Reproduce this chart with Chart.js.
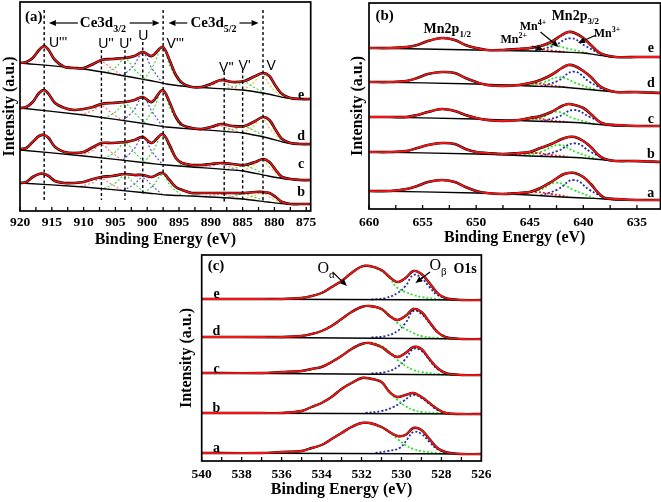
<!DOCTYPE html>
<html><head><meta charset="utf-8">
<script src="https://cdn.jsdelivr.net/npm/chart.js@4/dist/chart.umd.min.js"></script>
<style>
html,body{margin:0;padding:0;background:#fff;width:661px;height:502px;overflow:hidden;position:relative;}
.box{position:absolute;}
</style></head><body>
<div class="box" style="left:0;top:0;width:320px;height:254px"><canvas id="ca"></canvas></div>
<div class="box" style="left:348px;top:0;width:314px;height:254px"><canvas id="cb"></canvas></div>
<div class="box" style="left:177px;top:252px;width:320px;height:250px"><canvas id="cc"></canvas></div>
<script>
// ---------- Panel (a): Ce 3d ----------
const A_E = [920,919,918,917,916.2,915.5,914.5,913,911.5,910,908.5,907.2,905.5,903.5,902,900.7,899.3,897.6,896.5,895.5,894.5,893,891.5,890,888.4,886.6,884.7,883,881.8,880.8,879.8,878.8,877.5,876,874.3];
const A_FIT_E = [148,149,153,161,165,161,151,144,143,143,147,151,152,153,155,159,155,164,151,136,128,124,124,127,131,129,130,135,138,135,125,117,113,112,112];
const A_FIT_D = [103,104,109,118,121,117,108,103,101,102,104,107,108,109,111,114,109,121,109,94,86,83,82,84,87,85,85,90,94,91,81,72,68,67,67];
const A_FIT_C = [62,63,69,75,76,73,64,59,58,59,64,68,68,69,71,74,68,77,66,53,48,46,46,47,48,47,46,49,52,49,41,34,32,31,31];
const A_FIT_B = [28,29,34,37,37,35,30,28,28,29,32,34,35,37,36,36,34,38,31,24,21,18,18,18,18,18,18,19,19,18,14,9,7,7,7];
const A_BASE_X = [920,910,900,897,893,885,881,878,874.3];
const A_BASE_E = [148,142,131,127,124,121,117,113,112];
const A_BASE_D = [103,96,87,84,82,78,73,68,67];
const A_BASE_C = [61,55,48,46,44,40,35,32,31];
const A_BASE_B = [28,24,18,16,15,12,9,7,7];
const aE_U2 = [[910.5,141.5],[908.7,145],[907.2,149],[905.7,143],[904,135.5]];
const aE_U1 = [[906.8,138],[905,143.5],[903.5,152],[902,141.5],[900.3,131.5]];
const aE_U0 = [[903.8,135.5],[902.2,145],[900.7,157],[899.2,142],[897.6,128]];
const aE_V3 = [[900.5,131],[899,146],[897.6,163],[896.3,143],[894.6,125.5]];
const aE_V2 = [[891.5,123.5],[889.8,126],[888.4,129.5],[887,125.5],[885.3,121]];
const aE_V1 = [[888,122],[886.2,124.5],[884.7,128.5],[883.2,123.5],[881.5,118]];
const aE_V0 = [[885,121],[883.3,128],[882,137],[880.8,126],[879,114]];
const aD_U2 = [[910.5,96.5],[908.7,100],[907.2,105],[905.7,98.5],[904,91]];
const aD_U1 = [[906.8,92.5],[905,99],[903.5,107],[902,98],[900.3,87.5]];
const aD_U0 = [[903.8,90.5],[902.2,100],[900.7,113],[899.2,99],[897.6,84.6]];
const aD_V3 = [[900.5,87.5],[899,102],[897.6,120],[896.3,101],[894.6,83]];
const aD_V2 = [[891.5,81],[889.8,83],[888.4,85],[887,82],[885.3,78]];
const aD_V1 = [[888,80],[886.2,82],[884.7,84],[883.2,80.5],[881.5,74.5]];
const aD_V0 = [[885,78],[883.3,85],[882,93],[880.8,83],[879,70.5]];
const aC_U2 = [[910.5,55.5],[908.7,60],[907.2,66],[905.7,59],[904,51]];
const aC_U1 = [[906.8,52.5],[905,59],[903.5,68],[902,58.5],[900.3,48]];
const aC_U0 = [[903.8,51],[902.2,61],[900.7,73],[899.2,59],[897.6,46.4]];
const aC_V3 = [[900.5,48],[899,61],[897.6,76],[896.3,60],[894.6,45]];
const aC_V2 = [[891.5,43.5],[889.8,45],[888.4,47],[887,44],[885.3,40]];
const aC_V1 = [[888,41.5],[886.2,43],[884.7,45],[883.2,42],[881.5,36.5]];
const aC_V0 = [[885,40],[883.3,45.5],[882,51],[880.8,44],[879,33]];
const aB_U2 = [[910.5,24.5],[908.7,28],[907.2,32],[905.7,27],[904,20.5]];
const aB_U1 = [[906.8,22.5],[905,28],[903.5,35],[902,27],[900.3,18]];
const aB_U0 = [[903.8,20.5],[902.2,26],[900.7,33],[899.2,25],[897.6,16.4]];
const aB_V3 = [[900.5,18],[899,26],[897.6,36],[896.3,25],[894.6,15.5]];
const aB_V2 = [[891.5,14.5],[889.8,15.5],[888.4,17],[887,15],[885.3,12]];
const aB_V1 = [[888,13],[886.2,15],[884.7,17],[883.2,14],[881.5,10]];
const aB_V0 = [[885,12],[883.3,15],[882,18],[880.8,14],[879,8]];
const A_MARK_E   = [916.2,907.2,903.5,900.7,897.5,887.9,885.0,881.8];
const A_MARK_TOP = [201,161,161,169,201,139,141,201];
const A_MARK_BOT = [11,11,11,17,38,9,9,11];
const A_TICKS = [920,917.5,915,912.5,910,907.5,905,902.5,900,897.5,895,892.5,890,887.5,885,882.5,880,877.5,875];
const A_LABELS = [920,915,910,905,900,895,890,885,880,875];

// ---------- Panel (b): Mn 2p ----------
const B_E = [660,658,656.5,655.5,654.5,653.2,652,651,650,649,647.5,646,645,644,643,642,641.4,640.8,640,639.3,638.6,638,637,635,632.8];
const B_FIT_E = [161,161,162,164,168,171,169,164,161,159,159,160,161,163,167,174,177,176,171,164,157,154,152,152,152];
const B_FIT_D = [127,127,128,131,135,137,136,131,127,124,123,124,126,129,134,141,144,143,138,132,124,120,117,117,116];
const B_FIT_C = [92,92,92,94,97,100,98,94,91,89,88,89,91,93,97,103,105,104,101,95,88,85,84,83,83];
const B_FIT_B = [57,57,58,61,64,66,65,60,57,56,55,56,57,61,65,70,72,72,68,62,54,50,48,48,47];
const B_FIT_A = [18,18,20,23,27,29,27,22,18,16,15,16,17,21,27,34,36,36,32,25,16,11,10,9,9];
const B_BASE_X = [660,650,645,642,640,638,637,632.8];
const B_BASE_E = [161,159,158,157,156,153,152,152];
const B_BASE_D = [127,125,123,122,120,118,117,116];
const B_BASE_C = [92,90,88,87,86,84,83,83];
const B_BASE_B = [57,55,53,52,51,49,48,47];
const B_BASE_A = [18,16,14,12,11,10,9,9];
const bE_Mn3 = [[644.5,158.5],[642.8,163],[641.2,170.7],[639.8,163],[638.2,153.5]];
const bE_Mn4 = [[646,159],[644.5,161],[643,164],[641.5,160.5],[639.5,155.5]];
const bE_Mn2 = [[647.5,159],[646,159.7],[644.5,161],[643,158.5],[641.5,157]];
const bD_Mn3 = [[644,122.5],[642.4,128],[640.9,137.3],[639.4,127],[637.8,117.5]];
const bD_Mn4 = [[645.5,123.5],[643.8,126.5],[642.2,131.7],[640.6,125.5],[638.8,119]];
const bD_Mn2 = [[647.5,123.5],[646,124],[644.5,125.5],[643,123.5],[641.5,121.5]];
const bC_Mn3 = [[644,87.5],[642.4,92],[640.9,99],[639.4,92],[637.8,84]];
const bC_Mn4 = [[645.5,88.5],[644,91],[642.5,97.3],[641,91],[639,85]];
const bC_Mn2 = [[647.5,88.3],[646,89],[644.5,90.5],[643,88.5],[641.5,87]];
const bB_Mn3 = [[644,53],[642.4,58],[640.8,65.7],[639.3,57],[637.8,49]];
const bB_Mn4 = [[645.5,54],[644,57],[642.3,64],[640.7,57],[638.8,50]];
const bB_Mn2 = [[647.5,54.5],[646,55],[644.5,56],[643,54],[641.5,52.5]];
const bA_Mn3 = [[644,13.5],[642.4,19.5],[640.9,29],[639.4,19],[637.8,9.5]];
const bA_Mn4 = [[645.7,15],[644.1,19],[642.5,26.3],[640.9,19],[639,11]];
const bA_Mn2 = [[647.5,15.2],[646,16],[644.5,17],[643,15],[641.5,12.5]];
const B_TICKS = [660,657.5,655,652.5,650,647.5,645,642.5,640,637.5,635];
const B_LABELS = [660,655,650,645,640,635];

// ---------- Panel (c): O 1s ----------
const C_E = [540,537,536,535,534.5,534,533.5,533,532.5,532,531.6,531,530.6,530.2,529.8,529.4,529,528.6,528.2,527.8,527,526];
const C_FIT_E = [162,162,162,163,165,168,174,180,188,194.5,195,191,184,179,183,190,187,178,168,163,161,161];
const C_FIT_D = [124,124,124,125,127,130,135,142,149,154,155,152,145,141,145,152,149,139,129,124,122,122];
const C_FIT_C = [88,88,89,90,92,94,99,105,112,117,118,114,108,104,108,114,112,102,93,88,86,86];
const C_FIT_B = [48,48,48,50,54,58,64,72,78,83,82.5,79,69,64,66,68,64,58,52,48,47,47];
const C_FIT_A = [8,8,9,10,13,16,22,28,34,38,38,34,29,25,26,33,31,22,13,9,7,7];
const C_BASE_X = [540,526];
const C_BASE_E = [162,161];
const C_BASE_D = [124,122];
const C_BASE_C = [88,86];
const C_BASE_B = [48,47];
const C_BASE_A = [8,7];
const cE_Oa = [[535,163],[534,168],[533,180],[532.5,188],[531.8,195],[531,190],[530.6,183],[530.2,173],[529.8,169],[529.4,166],[529,164],[528.2,162],[527.5,161]];
const cE_Ob = [[531.5,161.5],[530.8,163],[530.2,168],[529.8,175],[529.4,186],[529,183],[528.6,174],[528.2,166],[527.6,161.5]];
const cD_Oa = [[535,125],[534,130],[533,142],[532.5,149],[531.7,155],[531,152],[530.6,146],[530.2,138],[529.8,132],[529.4,128],[529,125],[528.2,123],[527.5,122]];
const cD_Ob = [[531.5,123.5],[530.8,125],[530.2,130],[529.8,138],[529.4,150],[529,147],[528.6,138],[528.2,129],[527.6,122.5]];
const cC_Oa = [[535,90],[534,94],[533,105],[532.5,112],[531.6,118],[531,115],[530.6,109],[530.2,101],[529.8,95],[529.4,91],[529,89],[528.2,87],[527.5,86]];
const cC_Ob = [[531.5,87.5],[530.8,89],[530.2,94],[529.8,102],[529.4,112],[529,110],[528.6,101],[528.2,92],[527.6,86.5]];
const cB_Oa = [[535,50],[534,58],[533,72],[532.5,78],[531.8,83],[531,79],[530.6,69],[530.2,61],[529.8,55],[529.4,51],[529,49],[528.2,48],[527.5,47]];
const cB_Ob = [[531.8,48],[531,50],[530.4,54],[529.9,60],[529.4,66],[529,63],[528.6,57],[528.2,51],[527.6,47.5]];
const cA_Oa = [[535,10],[534,16],[533,28],[532.5,34],[531.8,38],[531,34],[530.6,29],[530.2,22],[529.8,16],[529.4,12],[529,10],[528.2,8],[527.5,7]];
const cA_Ob = [[531.3,8],[530.7,10],[530.1,13],[529.7,22],[529.4,29],[529,27],[528.6,19],[528.2,12],[527.6,7.5]];
const C_TICKS = [540,539,538,537,536,535,534,533,532,531,530,529,528,527,526];
const C_LABELS = [540,538,536,534,532,530,528,526];

// ---------- styling / helpers ----------
const SERIF = '"Liberation Serif","Times New Roman",serif';
const SANS = '"Liberation Sans",Arial,sans-serif';
const RED = '#f41414';
function zip(xs, ys){ return xs.map((x,i)=>({x:x, y:ys[i]})); }
function pairs(a){ return a.map(p=>({x:p[0], y:p[1]})); }
function ds(data, color, width, dash, order, tension){
  return {data:data, borderColor:color, borderWidth:width, borderDash:dash||[], pointRadius:0, pointHoverRadius:0,
          fill:false, tension:tension, order:order};
}
function spectrum(xs, fit, bx, base, comps, fw, under){
  const out = [];
  comps.forEach(c => out.push(ds(pairs(c[0]), c[1], c[2]||1.5, [2,2], 3, 0.45)));
  out.push(ds(zip(bx, base), '#000', 1.3, [], 2, 0.2));
  out.push(ds(zip(xs, fit), '#000', fw+under, [], 1, 0.35));
  out.push(ds(zip(xs, fit), RED, fw, [], 0, 0.35));
  return out;
}
const PINK='#ff6a6a', GRN='#3cd23c', BLU='#4a4ac0', YEL='#e8c230';
const GRN2='#33e033', BLU2='#2a2aa0', RED2='#ff2020';

let setA = [];
[[A_FIT_E,A_BASE_E,[aE_U2,aE_U1,aE_U0,aE_V3,aE_V2,aE_V1,aE_V0]],
 [A_FIT_D,A_BASE_D,[aD_U2,aD_U1,aD_U0,aD_V3,aD_V2,aD_V1,aD_V0]],
 [A_FIT_C,A_BASE_C,[aC_U2,aC_U1,aC_U0,aC_V3,aC_V2,aC_V1,aC_V0]],
 [A_FIT_B,A_BASE_B,[aB_U2,aB_U1,aB_U0,aB_V3,aB_V2,aB_V1,aB_V0]]].forEach(s=>{
  const cols=[PINK,GRN,BLU,GRN,PINK,GRN,YEL];
  setA = setA.concat(spectrum(A_E, s[0], A_BASE_X, s[1], s[2].map((c,i)=>[c,cols[i],1.1]), 1.5, 1.2));
});
A_MARK_E.forEach((e,i)=>{ setA.push(ds([{x:e,y:A_MARK_TOP[i]},{x:e,y:A_MARK_BOT[i]}], '#000', 1.4, [3,2.5], -1, 0)); });

let setB = [];
[[B_FIT_E,B_BASE_E,[bE_Mn2,bE_Mn4,bE_Mn3]],
 [B_FIT_D,B_BASE_D,[bD_Mn2,bD_Mn4,bD_Mn3]],
 [B_FIT_C,B_BASE_C,[bC_Mn2,bC_Mn4,bC_Mn3]],
 [B_FIT_B,B_BASE_B,[bB_Mn2,bB_Mn4,bB_Mn3]],
 [B_FIT_A,B_BASE_A,[bA_Mn2,bA_Mn4,bA_Mn3]]].forEach(s=>{
  setB = setB.concat(spectrum(B_E, s[0], B_BASE_X, s[1], [[s[2][0],RED2,1.8],[s[2][1],GRN2,1.8],[s[2][2],BLU2,1.8]], 1.8, 0.8));
});

let setC = [];
[[C_FIT_E,C_BASE_E,[cE_Oa,cE_Ob]],
 [C_FIT_D,C_BASE_D,[cD_Oa,cD_Ob]],
 [C_FIT_C,C_BASE_C,[cC_Oa,cC_Ob]],
 [C_FIT_B,C_BASE_B,[cB_Oa,cB_Ob]],
 [C_FIT_A,C_BASE_A,[cA_Oa,cA_Ob]]].forEach(s=>{
  setC = setC.concat(spectrum(C_E, s[0], C_BASE_X, s[1], [[s[2][0],GRN2,1.8],[s[2][1],BLU2,1.8]], 1.8, 0.6));
});

// ---------- annotations (text positions in data coordinates) ----------
const DECO = {
  ca: {
    notes: [
      {p:[['(a)',0]], E:919.2, v:195, al:'left', sz:15, f:SERIF, b:true},
      {p:[['Ce3d',0],['3/2',-1]], E:910.6, v:189, al:'left', sz:15, f:SERIF, b:true},
      {p:[['Ce3d',0],['5/2',-1]], E:893.2, v:189, al:'left', sz:15, f:SERIF, b:true},
      {p:[["U'''",0]], E:915.45, v:169, al:'left', sz:14, f:SANS, b:false},
      {p:[["U''",0]], E:906.5, v:168, al:'center', sz:14, f:SANS, b:false},
      {p:[["U'",0]], E:903.4, v:168, al:'center', sz:14, f:SANS, b:false},
      {p:[["U",0]], E:900.6, v:176, al:'center', sz:14, f:SANS, b:false},
      {p:[["V'''",0]], E:896.95, v:168, al:'left', sz:14, f:SANS, b:false},
      {p:[["V''",0]], E:887.55, v:144, al:'center', sz:14, f:SANS, b:false},
      {p:[["V'",0]], E:884.7, v:146, al:'center', sz:14, f:SANS, b:false},
      {p:[["V",0]], E:880.5, v:146, al:'center', sz:14, f:SANS, b:false},
      {p:[['e',0]], E:875.8, v:117, al:'center', sz:14, f:SERIF, b:true},
      {p:[['d',0]], E:875.8, v:76, al:'center', sz:14, f:SERIF, b:true},
      {p:[['c',0]], E:875.8, v:48, al:'center', sz:14, f:SERIF, b:true},
      {p:[['b',0]], E:875.8, v:20, al:'center', sz:14, f:SERIF, b:true}
    ],
    arrows: [[910.9,188,915.45,188],[902.76,188,898.06,188],[893.7,188,896.65,188],[885.5,188,882.5,188]]
  },
  cb: {
    notes: [
      {p:[['(b)',0]], E:659.4, v:194, al:'left', sz:15, f:SERIF, b:true},
      {p:[['Mn2p',0],['1/2',-1]], E:652.7, v:181, al:'center', sz:14, f:SERIF, b:true},
      {p:[['Mn2p',0],['3/2',-1]], E:640.75, v:194, al:'center', sz:14, f:SERIF, b:true},
      {p:[['Mn',0],['4+',1]], E:644.7, v:183, al:'center', sz:12, f:SERIF, b:true},
      {p:[['Mn',0],['2+',1]], E:646.5, v:170, al:'center', sz:12, f:SERIF, b:true},
      {p:[['Mn',0],['3+',1]], E:637.8, v:176, al:'center', sz:12, f:SERIF, b:true},
      {p:[['e',0]], E:633.7, v:162, al:'center', sz:14, f:SERIF, b:true},
      {p:[['d',0]], E:633.7, v:127, al:'center', sz:14, f:SERIF, b:true},
      {p:[['c',0]], E:633.7, v:91, al:'center', sz:14, f:SERIF, b:true},
      {p:[['b',0]], E:633.7, v:56, al:'center', sz:14, f:SERIF, b:true},
      {p:[['a',0]], E:633.7, v:17, al:'center', sz:14, f:SERIF, b:true}
    ],
    arrows: [[644.8,163,643.7,159],[644.0,177,642.3,162],[638.8,174,640.5,166]]
  },
  cc: {
    notes: [
      {p:[['(c)',0]], E:539.7, v:196, al:'left', sz:15, f:SERIF, b:true},
      {p:[['O',0],['\u03b1',-1]], E:534.2, v:193, al:'left', sz:16, f:SERIF, b:false},
      {p:[['O',0],['\u03b2',-1]], E:528.6, v:196, al:'left', sz:16, f:SERIF, b:false},
      {p:[['O1s',0]], E:527.4, v:193, al:'left', sz:14, f:SERIF, b:true},
      {p:[['e',0]], E:539.26, v:168, al:'center', sz:14, f:SERIF, b:true},
      {p:[['d',0]], E:539.26, v:131, al:'center', sz:14, f:SERIF, b:true},
      {p:[['c',0]], E:539.26, v:93, al:'center', sz:14, f:SERIF, b:true},
      {p:[['b',0]], E:539.26, v:54, al:'center', sz:14, f:SERIF, b:true},
      {p:[['a',0]], E:539.26, v:14, al:'center', sz:14, f:SERIF, b:true}
    ],
    arrows: [[533.45,189,532.73,175],[528.57,189,529.3,178]]
  }
};

function drawNote(ctx, x, y, n){
  const wt = n.b ? 'bold ' : '';
  const fonts = n.p.map(q => wt + (q[1] ? Math.round(n.sz*0.66) : n.sz) + 'px ' + n.f);
  const ws = n.p.map((q,i)=>{ ctx.font = fonts[i]; return ctx.measureText(q[0]).width; });
  const tot = ws.reduce((a,b)=>a+b,0);
  let cx = n.al==='center' ? x - tot/2 : (n.al==='right' ? x - tot : x);
  const base = y + n.sz*0.34;
  ctx.textAlign='left'; ctx.textBaseline='alphabetic'; ctx.fillStyle='#000';
  n.p.forEach((q,i)=>{
    ctx.font = fonts[i];
    const dy = q[1]===-1 ? n.sz*0.3 : (q[1]===1 ? -n.sz*0.42 : 0);
    ctx.fillText(q[0], cx, base+dy);
    cx += ws[i];
  });
}
function drawArrow(ctx, x1,y1,x2,y2, head){
  const a = Math.atan2(y2-y1, x2-x1);
  const bx = x2 - head*Math.cos(a), by = y2 - head*Math.sin(a);
  ctx.beginPath(); ctx.moveTo(x1,y1); ctx.lineTo(bx,by); ctx.stroke();
  const w = head*0.42;
  ctx.beginPath(); ctx.moveTo(x2,y2);
  ctx.lineTo(bx + w*Math.sin(a), by - w*Math.cos(a));
  ctx.lineTo(bx - w*Math.sin(a), by + w*Math.cos(a));
  ctx.closePath(); ctx.fill();
}
const decoPlugin = {
  id:'panelDeco',
  afterDatasetsDraw(chart){
    const ctx = chart.ctx, ca = chart.chartArea, x = chart.scales.x, y = chart.scales.y;
    const d = DECO[chart.canvas.id];
    ctx.save();
    ctx.strokeStyle='#000'; ctx.fillStyle='#000';
    ctx.lineWidth = 1.3;
    x.ticks.forEach(t=>{ const px = x.getPixelForValue(t.value); ctx.beginPath(); ctx.moveTo(px, ca.bottom); ctx.lineTo(px, ca.bottom-4); ctx.stroke(); });
    ctx.lineWidth = 1.7;
    ctx.strokeRect(ca.left, ca.top, ca.right-ca.left, ca.bottom-ca.top);
    ctx.lineWidth = 1.2;
    d.arrows.forEach(a=>drawArrow(ctx, x.getPixelForValue(a[0]), y.getPixelForValue(a[1]), x.getPixelForValue(a[2]), y.getPixelForValue(a[3]), 7));
    d.notes.forEach(n=>drawNote(ctx, x.getPixelForValue(n.E), y.getPixelForValue(n.v), n));
    ctx.restore();
  }
};

function makeChart(id, c){
  return new Chart(document.getElementById(id), {
    type:'line',
    data:{datasets:c.sets},
    options:{
      responsive:true, maintainAspectRatio:false, animation:false,
      layout:{padding:c.pad},
      plugins:{legend:{display:false}, tooltip:{enabled:false}},
      scales:{
        x:{type:'linear', reverse:true, min:c.xmin, max:c.xmax,
           afterBuildTicks: s => { s.ticks = c.ticks.map(v=>({value:v})); },
           afterFit: s => { s.height = c.xh; },
           grid:{display:false, drawTicks:false}, border:{display:false},
           ticks:{autoSkip:false, maxRotation:0, minRotation:0, padding:c.tp, color:'#000',
                  font:{family:SERIF, size:13.5, weight:'bold'},
                  callback: v => c.labels.indexOf(v) >= 0 ? String(v) : ''},
           title:{display:true, text:'Binding Energy (eV)', color:'#000',
                  font:{family:SERIF, size:16, weight:'bold'}, padding:{top:0, bottom:c.tb}}},
        y:{type:'linear', min:0, max:c.ymax,
           afterFit: s => { s.width = c.yw; },
           grid:{display:false, drawTicks:false}, border:{display:false}, ticks:{display:false},
           title:{display:true, text:'Intensity (a.u.)', color:'#000',
                  font:{family:SERIF, size:16, weight:'bold'}, padding:{top:0.4, bottom:0}}}
      }
    },
    plugins:[decoPlugin]
  });
}

makeChart('ca', {sets:setA, pad:{top:2,left:0,right:8.3,bottom:0}, xmin:874.3, xmax:920, ticks:A_TICKS, labels:A_LABELS, xh:43, tp:3.5, tb:4.4, ymax:209, yw:20});
makeChart('cb', {sets:setB, pad:{top:3,left:0,right:1.5,bottom:0}, xmin:632.8, xmax:660, ticks:B_TICKS, labels:B_LABELS, xh:45, tp:5.5, tb:6.4, ymax:206, yw:21});
makeChart('cc', {sets:setC, pad:{top:3,left:0,right:5.5,bottom:0}, xmin:526, xmax:540, ticks:C_TICKS, labels:C_LABELS, xh:41, tp:5.5, tb:2.4, ymax:206, yw:24.7});
</script>
</body></html>
